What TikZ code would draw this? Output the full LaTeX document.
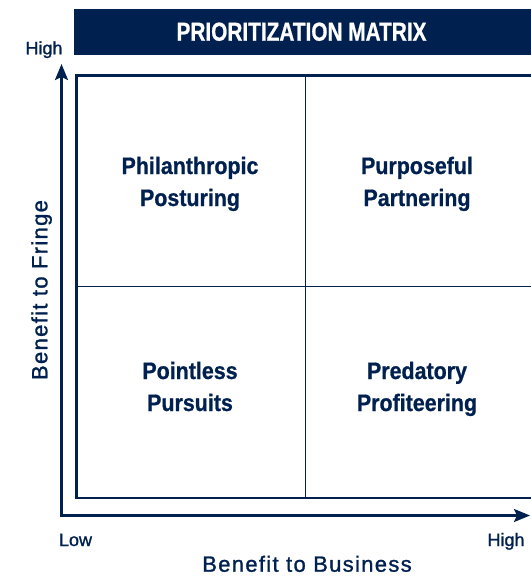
\documentclass[tikz,border=0pt]{standalone}
\usepackage{fontspec}
\setmainfont{Liberation Sans}
\newfontfamily\condfont[FakeStretch=0.9,FakeBold=0.8]{Liberation Sans}
\newfontfamily\titlefont[FakeStretch=0.8,FakeBold=0.8]{Liberation Sans}
\newfontfamily\axisfont[LetterSpace=6,FakeBold=1.2]{Liberation Sans}
\newfontfamily\tickfont[FakeBold=1.2]{Liberation Sans}
\usetikzlibrary{arrows.meta}
\definecolor{navy}{HTML}{00204F}
\begin{document}
\begin{tikzpicture}[x=1pt,y=-1pt,
  >={Stealth[length=16pt,width=13pt,inset=3pt]},
  quad/.style={text=navy,align=center,font=\condfont\bfseries\fontsize{23.8}{32}\selectfont,inner sep=0pt},
  ticklbl/.style={text=navy,font=\tickfont\fontsize{18}{20}\selectfont,inner sep=0pt},
  axislbl/.style={text=navy,font=\axisfont\fontsize{22}{24}\selectfont,inner sep=0pt},
  axisline/.style={draw=navy,line width=2.3pt},
  divider/.style={draw=navy,line width=1.2pt}]
\useasboundingbox (0,0) rectangle (530,577);
% title bar
\node[fill=navy,minimum width=457pt,minimum height=46pt,inner sep=0pt,anchor=north west] (bar) at (74,9) {};
\node[text=white,font=\titlefont\bfseries\fontsize{26}{30}\selectfont,inner sep=0pt,anchor=base] (title) at (301.5,40.7) {PRIORITIZATION MATRIX};
% matrix box
\draw[axisline] (76.5,75.5) rectangle (560,498);
\coordinate (vtop) at (305.5,75.5);
\coordinate (vbot) at (305.5,498);
\coordinate (hleft) at (76.5,286.7);
\coordinate (hright) at (560,286.7);
\draw[divider] (vtop) -- (vbot);
\draw[divider] (hleft) -- (hright);
% axes
\coordinate (ytip) at (61.5,64);
\coordinate (origin) at (61.5,515.5);
\coordinate (xtip) at (530,515.5);
\draw[axisline,<->] (ytip) |- (xtip);
% tick labels
\node[ticklbl,anchor=base] (yhigh) at (44,54.3) {High};
\node[ticklbl,anchor=base] (xlow) at (75.5,546) {Low};
\node[ticklbl,anchor=base west] (xhigh) at (487.3,546) {High};
% axis titles
\node[axislbl,anchor=base] (xtitle) at (307,571.7) {Benefit to Business};
\node[axislbl,anchor=base,rotate=90] (ytitle) at (47.3,290) {Benefit to Fringe};
% quadrants
\node[quad] (q1) at (190,183.6) {\strut Philanthropic\\\strut Posturing};
\node[quad] (q2) at (417,183.6) {\strut Purposeful\\\strut Partnering};
\node[quad] (q3) at (190,388.6) {\strut Pointless\\\strut Pursuits};
\node[quad] (q4) at (417,388.6) {\strut Predatory\\\strut Profiteering};
\end{tikzpicture}
\end{document}
